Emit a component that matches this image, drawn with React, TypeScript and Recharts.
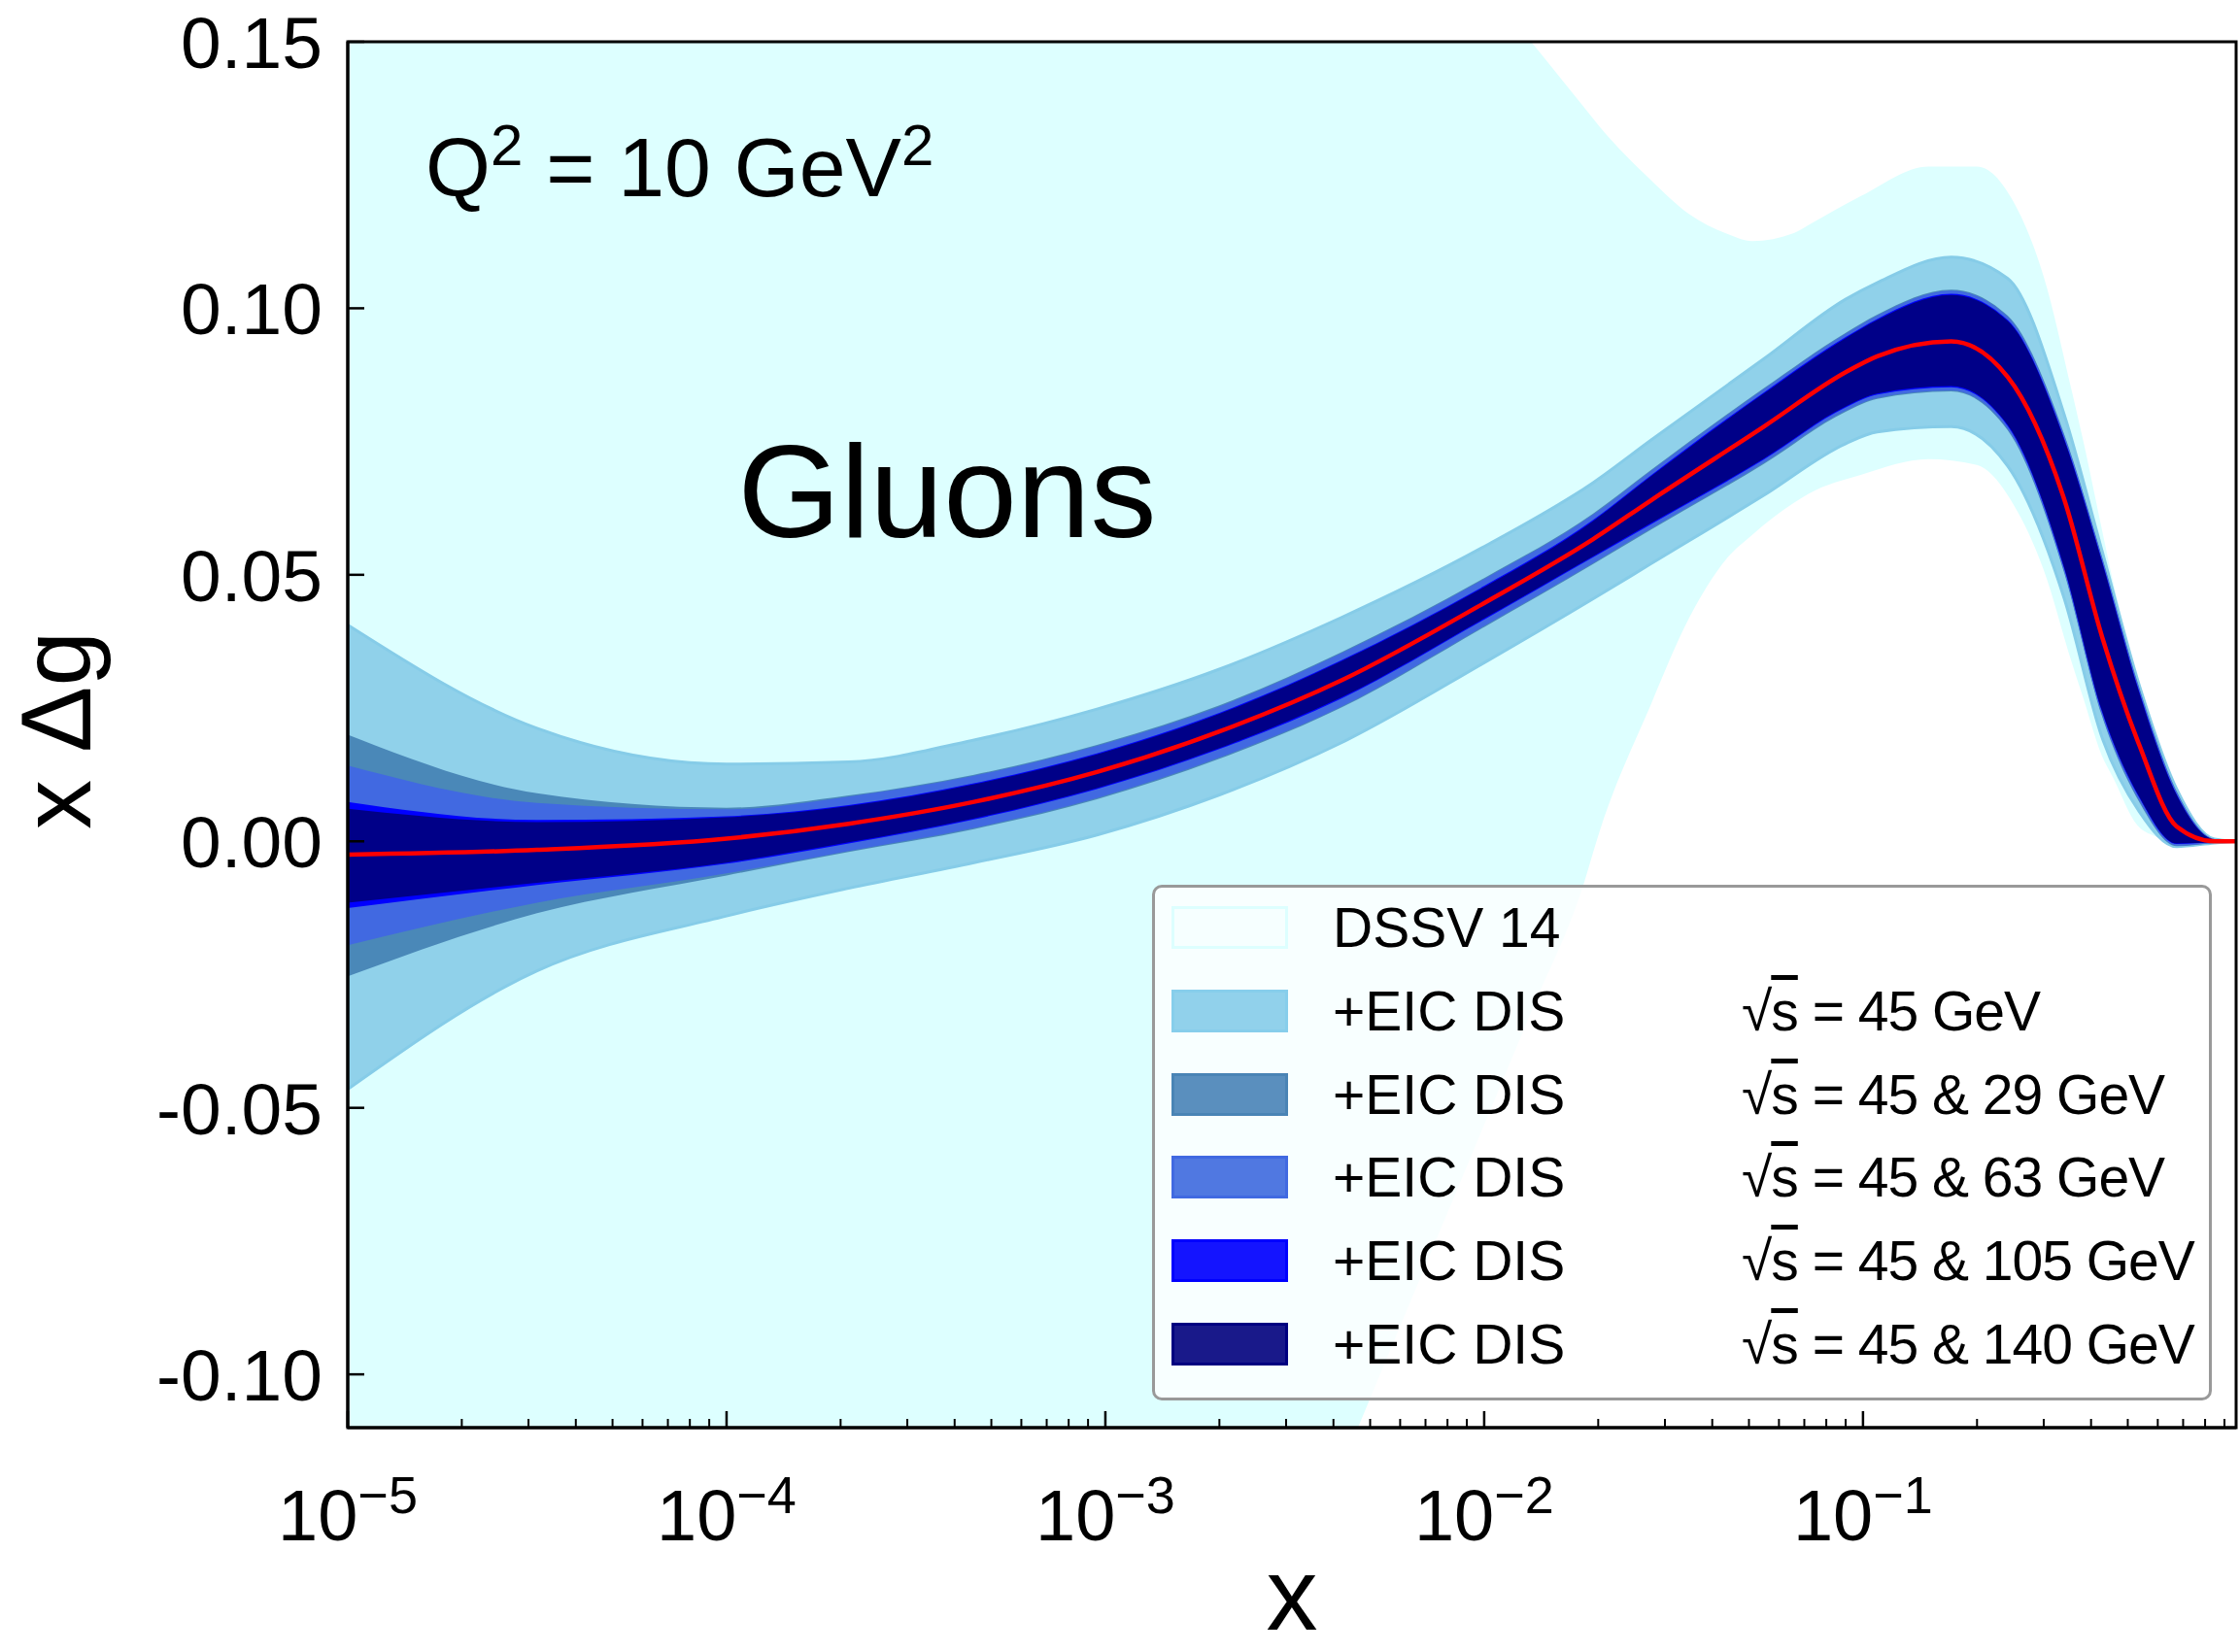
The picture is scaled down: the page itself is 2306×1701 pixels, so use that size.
import React from 'react';
import { ComposedChart, Area, Line, XAxis, YAxis, Legend } from 'recharts';

const FONT = '"Liberation Sans", Arial, Helvetica, sans-serif';

const xGrid = [1e-5, 3.16e-5, 1e-4, 2.1e-4, 4.5e-4, 9.5e-4, 2e-3, 4.2e-3, 0.01, 0.0194, 0.0276, 0.0547, 0.09, 0.109, 0.171, 0.241, 0.34, 0.428, 0.536, 0.673, 0.847, 0.966];
const central = [-0.0025, -0.0016, 0.0005, 0.0033, 0.0074, 0.013, 0.0206, 0.0302, 0.0447, 0.0567, 0.064, 0.0778, 0.088, 0.091, 0.0938, 0.0871, 0.0641, 0.0383, 0.0181, 0.0028, 0.0, 0.0];

// +EIC DIS sqrt(s) = 45 GeV
const skyLo = [-0.0465, -0.0243, -0.014, -0.0088, -0.004, 0.0012, 0.0087, 0.0185, 0.0335, 0.0455, 0.0521, 0.0649, 0.0746, 0.0768, 0.0778, 0.0704, 0.0455, 0.0194, 0.0056, -0.001, -0.0003, 0.0];
const skyHi = [0.0406, 0.0212, 0.0145, 0.0149, 0.019, 0.0248, 0.0323, 0.042, 0.0553, 0.0673, 0.0753, 0.0905, 0.1017, 0.1048, 0.1096, 0.1056, 0.08, 0.0544, 0.0293, 0.0098, 0.0004, 0.0];
// 45 & 29 GeV
const steelLo = [-0.0253, -0.0135, -0.0064, -0.002, 0.0023, 0.0079, 0.0155, 0.0251, 0.0402, 0.052, 0.0585, 0.0708, 0.0806, 0.083, 0.0844, 0.0771, 0.0503, 0.0234, 0.0074, -0.0009, -0.0003, 0.0];
const steelHi = [0.02, 0.009, 0.0063, 0.0086, 0.0125, 0.0181, 0.0255, 0.0355, 0.0494, 0.0615, 0.0697, 0.085, 0.0954, 0.0988, 0.1035, 0.0986, 0.0763, 0.0533, 0.0289, 0.0094, 0.0004, 0.0];
// 45 & 63 GeV
const royalLo = [-0.0195, -0.0115, -0.006, -0.0018, 0.0025, 0.0081, 0.0157, 0.0253, 0.0404, 0.0522, 0.0587, 0.071, 0.0808, 0.0832, 0.0846, 0.0773, 0.0505, 0.0236, 0.0076, -0.0008, -0.0003, 0.0];
const royalHi = [0.0142, 0.0072, 0.006, 0.0084, 0.0123, 0.0179, 0.0253, 0.0353, 0.0492, 0.0613, 0.0695, 0.0848, 0.0952, 0.0986, 0.1033, 0.0984, 0.0761, 0.0531, 0.0287, 0.0093, 0.0004, 0.0];
// 45 & 105 GeV
const blueLo = [-0.0125, -0.0082, -0.0042, -0.0004, 0.0041, 0.0098, 0.0173, 0.0268, 0.0416, 0.0533, 0.0595, 0.0716, 0.0814, 0.0838, 0.0852, 0.0779, 0.0511, 0.0242, 0.0082, -0.0005, -0.0002, 0.0];
const blueHi = [0.0074, 0.004, 0.0047, 0.0068, 0.0109, 0.0165, 0.0241, 0.034, 0.0479, 0.0603, 0.0687, 0.0842, 0.0946, 0.098, 0.1027, 0.0978, 0.0755, 0.0525, 0.0281, 0.0088, 0.0003, 0.0];
// 45 & 140 GeV
const navyLo = [-0.0115, -0.0078, -0.004, -0.0002, 0.0043, 0.01, 0.0175, 0.027, 0.0418, 0.0535, 0.0597, 0.0718, 0.0816, 0.084, 0.0854, 0.0781, 0.0513, 0.0244, 0.0084, -0.0004, -0.0002, 0.0];
const navyHi = [0.0061, 0.0036, 0.0045, 0.0066, 0.0107, 0.0163, 0.0239, 0.0338, 0.0477, 0.0601, 0.0685, 0.084, 0.0944, 0.0978, 0.1025, 0.0976, 0.0753, 0.0523, 0.0279, 0.0087, 0.0003, 0.0];

// DSSV 14 band, read on its own (coarser) grid; runs off the frame at small x
const dssvX = [1e-5, 1e-3, 0.00417, 0.00477, 0.0133, 0.0182, 0.0202, 0.0276, 0.0347, 0.0436, 0.051, 0.0657, 0.0718, 0.0991, 0.149, 0.2, 0.25, 0.3, 0.356, 0.381, 0.427, 0.457, 0.53, 0.588, 0.669, 0.738, 0.966];
const dssvLo = [-0.6, -0.3, -0.118, -0.108, -0.032, -0.0086, 0.002, 0.0258, 0.0418, 0.053, 0.0575, 0.0635, 0.0652, 0.0688, 0.0717, 0.0706, 0.0631, 0.0509, 0.0335, 0.027, 0.0161, 0.012, 0.003, 0.001, 0.0, 0.0, 0.0];
const dssvHi = [0.6, 0.35, 0.193, 0.186, 0.15, 0.138, 0.134, 0.124, 0.1177, 0.114, 0.1126, 0.1141, 0.1156, 0.1211, 0.1266, 0.1266, 0.1199, 0.1059, 0.0844, 0.0753, 0.0586, 0.0488, 0.0305, 0.018, 0.0105, 0.002, 0.0];

const xMajor = [1e-5, 1e-4, 1e-3, 1e-2, 1e-1];
const yTicks = [-0.1, -0.05, 0, 0.05, 0.1, 0.15];
const X_DOMAIN = [1e-5, 0.966];
const Y_DOMAIN = [-0.11, 0.15];

const legendNames = ['DSSV 14', '+EIC DIS', '+EIC DIS', '+EIC DIS', '+EIC DIS', '+EIC DIS'];
const legendEnergies = ['', '45', '45 & 29', '45 & 63', '45 & 105', '45 & 140'];
const legendFill = ['#F6FFFF', '#91D1EB', '#5A8FBE', '#5078E1', '#1414FF', '#19198A'];
const legendEdge = ['#DDFFFF', '#87CEEB', '#4A84B5', '#4169E1', '#0000FF', '#000080'];

const xMinor: number[] = [];
xMajor.forEach((d) => {
  for (let m = 2; m <= 9; m++) {
    const v = d * m;
    if (v < X_DOMAIN[1]) xMinor.push(v);
  }
});
const xTicks = [...xMajor, ...xMinor].sort((a, b) => a - b);

type Row = { x: number; [k: string]: any };
const rows = new Map<number, Row>();
const rowAt = (x: number) => {
  if (!rows.has(x)) rows.set(x, { x });
  return rows.get(x)!;
};
xGrid.forEach((x, i) => {
  const r = rowAt(x);
  r.central = central[i];
  r.sky = [skyLo[i], skyHi[i]];
  r.steel = [steelLo[i], steelHi[i]];
  r.royal = [royalLo[i], royalHi[i]];
  r.blue = [blueLo[i], blueHi[i]];
  r.navy = [navyLo[i], navyHi[i]];
});
dssvX.forEach((x, i) => {
  rowAt(x).dssv = [dssvLo[i], dssvHi[i]];
});
const data = [...rows.values()].sort((a, b) => a.x - b.x);

function XTick(props: any) {
  const { x, y, payload } = props;
  const lg = Math.log10(payload.value);
  const e = Math.round(lg);
  const major = Math.abs(lg - e) < 1e-6;
  return (
    <g>
      <line x1={x} x2={x} y1={y} y2={y - (major ? 17 : 9)} stroke="#000" strokeWidth={major ? 2.5 : 2} />
      {major && (
        <text x={x} y={y + 116} textAnchor="middle" fontFamily={FONT} fontSize={74} fill="#000">
          10
          <tspan dy={-28} fontSize={54}>
            {'\u2212' + Math.abs(e)}
          </tspan>
        </text>
      )}
    </g>
  );
}

function YTick(props: any) {
  const { x, y, payload } = props;
  return (
    <g>
      <line x1={x} x2={x + 17} y1={y} y2={y} stroke="#000" strokeWidth={2.5} />
      <text x={x - 26} y={y} dy="0.36em" textAnchor="end" fontFamily={FONT} fontSize={75} fill="#000">
        {payload.value.toFixed(2)}
      </text>
    </g>
  );
}

function LegendBox() {
  return (
    <div
      style={{
        position: 'relative',
        width: 1091,
        height: 531,
        boxSizing: 'border-box',
        border: '3.5px solid #999',
        borderRadius: 10,
        background: 'rgba(255,255,255,0.8)',
        fontFamily: FONT,
        fontSize: 57,
        color: '#000',
      }}
    >
      {legendNames.map((name, i) => {
        const cy = 41 + i * 85.8;
        return (
          <div key={i} style={{ position: 'absolute', left: 0, top: cy - 30, height: 60, width: '100%' }}>
            <div
              style={{
                position: 'absolute',
                left: 17,
                top: 8,
                width: 120,
                height: 44,
                boxSizing: 'border-box',
                background: legendFill[i],
                border: `3px solid ${legendEdge[i]}`,
              }}
            />
            <div style={{ position: 'absolute', left: 183, top: 0, lineHeight: '60px', whiteSpace: 'nowrap' }}>{name}</div>
            {legendEnergies[i] && (
              <div style={{ position: 'absolute', left: 604, top: 0, lineHeight: '60px', whiteSpace: 'nowrap', letterSpacing: -1 }}>
                {'\u221A'}
                <span style={{ textDecoration: 'overline' }}>s</span>
                {` = ${legendEnergies[i]} GeV`}
              </div>
            )}
          </div>
        );
      })}
    </div>
  );
}

const band = (key: string, fill: string, stroke = 'none', sw = 0) => (
  <Area
    key={key}
    dataKey={key}
    type="monotone"
    fill={fill}
    fillOpacity={1}
    stroke={stroke}
    strokeWidth={sw}
    connectNulls
    dot={false}
    activeDot={false}
    isAnimationActive={false}
  />
);

export default function App() {
  return (
    <div style={{ position: 'absolute', left: 0, top: 0, width: 2306, height: 1701, background: '#fff' }}>
      <ComposedChart width={2306} height={1701} data={data} margin={{ top: 43, right: 4, bottom: 0, left: 0 }}>
        {band('dssv', '#DDFFFF')}
        {band('sky', '#90D1EA', '#86CCE8', 3)}
        {band('steel', '#4A88B8')}
        {band('royal', '#4169E1')}
        {band('blue', '#0000FF')}
        {band('navy', '#000088')}
        <Line dataKey="central" type="monotone" stroke="#FF0000" strokeWidth={4.5} dot={false} activeDot={false} connectNulls isAnimationActive={false} />
        <Legend
          verticalAlign="middle"
          align="center"
          layout="horizontal"
          wrapperStyle={{ left: 1186, top: 911, width: 1091, height: 531 }}
          content={() => <LegendBox />}
        />
        <XAxis
          dataKey="x"
          type="number"
          scale="log"
          domain={X_DOMAIN}
          allowDataOverflow
          ticks={xTicks}
          interval={0}
          tickSize={0}
          tickMargin={0}
          tickLine={false}
          tick={(p: any) => <XTick {...p} />}
          axisLine={{ stroke: '#000', strokeWidth: 3 }}
          height={231}
          label={() => (
            <text x={1330} y={1678} textAnchor="middle" fontFamily={FONT} fontSize={106} fill="#000">
              x
            </text>
          )}
        />
        <YAxis
          type="number"
          domain={Y_DOMAIN}
          allowDataOverflow
          ticks={yTicks}
          interval={0}
          tickSize={0}
          tickMargin={0}
          tickLine={false}
          tick={(p: any) => <YTick {...p} />}
          axisLine={{ stroke: '#000', strokeWidth: 3 }}
          width={358}
          label={() => (
            <text transform="translate(93,752) rotate(-90)" textAnchor="middle" fontFamily={FONT} fontSize={102} fill="#000">
              x Δg
            </text>
          )}
        />
      </ComposedChart>
      <svg width={2306} height={1701} style={{ position: 'absolute', left: 0, top: 0, pointerEvents: 'none' }}>
        <rect x={358} y={43} width={1944} height={1427} fill="none" stroke="#000" strokeWidth={3} />
        <text x={438} y={202} fontFamily={FONT} fontSize={86} fill="#000">
          Q
          <tspan dy={-32} fontSize={60}>2</tspan>
          <tspan dy={32}>{' = 10 GeV'}</tspan>
          <tspan dy={-32} fontSize={60}>2</tspan>
        </text>
        <text x={975} y={553} textAnchor="middle" fontFamily={FONT} fontSize={136} fill="#000">
          Gluons
        </text>
      </svg>
    </div>
  );
}
